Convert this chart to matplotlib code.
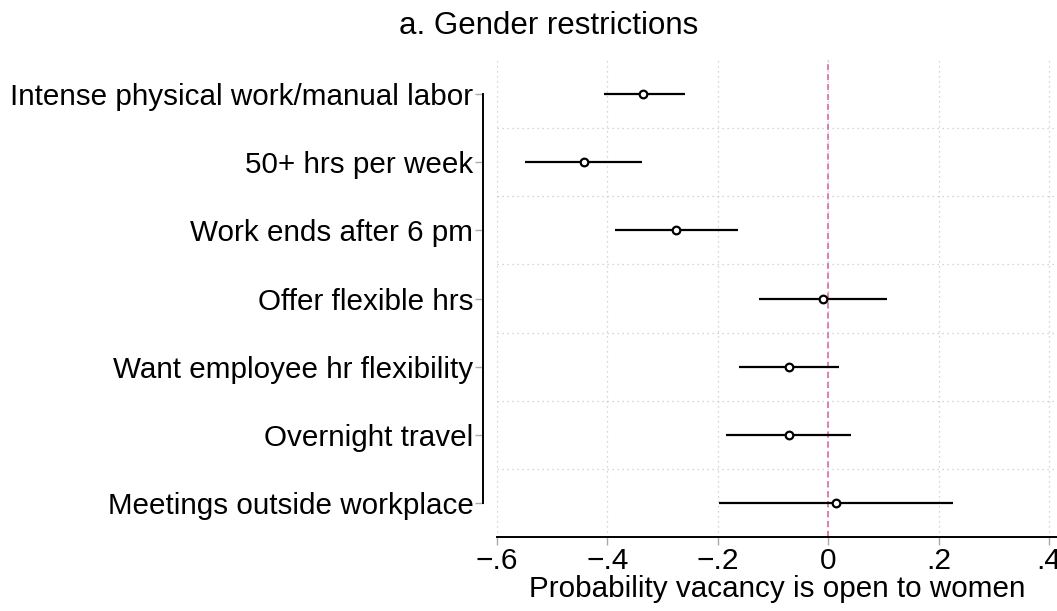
import matplotlib
matplotlib.use("Agg")
import matplotlib.pyplot as plt
from matplotlib.ticker import FuncFormatter
import numpy as np

plt.rcParams["font.family"] = ["Liberation Sans", "DejaVu Sans"]

labels = [
    "Intense physical work/manual labor",
    "50+ hrs per week",
    "Work ends after 6 pm",
    "Offer flexible hrs",
    "Want employee hr flexibility",
    "Overnight travel",
    "Meetings outside workplace",
]
estimates = [-0.335, -0.443, -0.275, -0.010, -0.071, -0.071, 0.015]
ci_low = [-0.407, -0.550, -0.387, -0.125, -0.161, -0.185, -0.197]
ci_high = [-0.259, -0.337, -0.163, 0.107, 0.019, 0.042, 0.226]
xticks = [-0.6, -0.4, -0.2, 0, 0.2, 0.4]


def fmt(v, pos):
    if abs(v) < 1e-9:
        return "0"
    s = f"{abs(v):.1f}".lstrip("0")
    return ("\u2212" if v < 0 else "") + s


fig = plt.figure(figsize=(10.57, 6.11), dpi=100)
ax = fig.add_axes([0.4702, 0.1211, 0.5298, 0.7807])

pos = np.arange(1, len(labels) + 1)
ax.hlines(pos, ci_low, ci_high, color="black", lw=1.6, zorder=3)
ax.plot(estimates, pos, "o", ms=5.5, mfc="white", mec="black", mew=1.6, zorder=4)
ax.axvline(0, color="#d6609c", lw=1.1, ls=(0, (4, 2.5)), zorder=2)

ax.set_ylim(len(labels) + 0.5, 0.5)
ax.set_xlim(-0.6, 0.4145)
ax.set_yticks(pos)
ax.set_yticklabels(labels)
ax.set_xticks(xticks)
ax.xaxis.set_major_formatter(FuncFormatter(fmt))
ax.tick_params(axis="x", labelsize=21.5, length=6, width=1, color="#aaaaaa", pad=1)
ax.tick_params(axis="y", labelsize=21.3, length=6, width=1, color="#aaaaaa", pad=1)

# grid: verticals at ticks, horizontals between categories
for xv in xticks:
    ax.axvline(xv, color="#c8c8c8", lw=0.9, ls=(0, (1, 3)), zorder=1)
for yv in pos[:-1] + 0.5:
    ax.axhline(yv, color="#c8c8c8", lw=0.9, ls=(0, (1, 3)), zorder=1)

for s in ["top", "right"]:
    ax.spines[s].set_visible(False)
ax.spines["left"].set_bounds(1, len(labels))
ax.spines["left"].set_position(("outward", 10))
ax.spines["left"].set_linewidth(1.4)
ax.spines["bottom"].set_linewidth(1.4)

ax.set_xlabel("Probability vacancy is open to women", fontsize=21.3, labelpad=0)
fig.text(0.519, 0.958, "a. Gender restrictions", fontsize=22.5, ha="center", va="center")

fig.savefig("out.png", dpi=100)
